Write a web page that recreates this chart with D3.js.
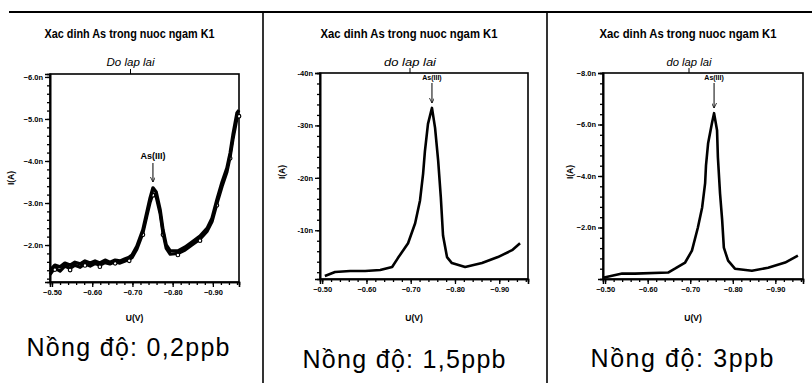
<!DOCTYPE html>
<html><head><meta charset="utf-8">
<script src="https://cdn.jsdelivr.net/npm/d3@7"></script>
<style>
html,body{margin:0;padding:0;background:#fff;}
svg{display:block;}
text{font-family:Arial,"Liberation Sans",sans-serif;fill:#000;}
</style></head>
<body><svg id="c" width="812" height="383"></svg>
<script>
// ---------- data ----------
const titles = ["Xac dinh As trong nuoc ngam K1","Xac dinh As trong nuoc ngam K1","Xac dinh As trong nuoc ngam K1"];
const subtitles = ["Do lap lai","do lap lai","do lap lai"];
const captions = ["Nồng độ: 0,2ppb","Nồng độ: 1,5ppb","Nồng độ: 3ppb"];
const peakLabel = "As(III)";
const xLabel = "U(V)";
const yLabel = "I(A)";
const xTicks = [-0.50,-0.60,-0.70,-0.80,-0.90];
const yTicks1 = [-6,-5,-4,-3,-2];
const yTicks2 = [-40,-30,-20,-10];
const yTicks3 = [-8,-6,-4,-2];

const potential1 = [-0.495,-0.507,-0.520,-0.532,-0.545,-0.557,-0.570,-0.582,-0.595,-0.607,-0.619,-0.632,-0.644,-0.657,-0.669,-0.682,-0.692,-0.699,-0.711,-0.726,-0.736,-0.744,-0.751,-0.759,-0.769,-0.776,-0.784,-0.794,-0.813,-0.831,-0.848,-0.868,-0.886,-0.898,-0.910,-0.923,-0.935,-0.943,-0.950,-0.960,-0.965];
const current1a = [-1.40,-1.52,-1.48,-1.57,-1.52,-1.59,-1.55,-1.62,-1.57,-1.62,-1.57,-1.64,-1.59,-1.64,-1.62,-1.67,-1.71,-1.76,-1.97,-2.36,-2.78,-3.12,-3.36,-3.26,-2.83,-2.36,-2.00,-1.86,-1.86,-1.95,-2.07,-2.21,-2.40,-2.64,-3.07,-3.50,-3.83,-4.19,-4.62,-5.14,-5.21];
const current1b = [-1.30,-1.45,-1.38,-1.50,-1.44,-1.52,-1.47,-1.55,-1.50,-1.56,-1.52,-1.58,-1.55,-1.60,-1.57,-1.62,-1.66,-1.70,-1.90,-2.28,-2.70,-3.02,-3.22,-3.15,-2.74,-2.28,-1.92,-1.78,-1.80,-1.88,-2.00,-2.14,-2.33,-2.56,-2.98,-3.40,-3.74,-4.10,-4.52,-5.02,-5.10];

const potential2 = [-0.506,-0.529,-0.563,-0.597,-0.631,-0.658,-0.671,-0.694,-0.710,-0.721,-0.728,-0.732,-0.739,-0.748,-0.755,-0.762,-0.768,-0.773,-0.782,-0.793,-0.823,-0.861,-0.897,-0.929,-0.947];
const current2 = [-1.27,-2.03,-2.22,-2.22,-2.41,-2.98,-4.69,-7.53,-11.33,-15.69,-20.82,-25.0,-30.30,-33.34,-29.54,-23.28,-16.3,-9.0,-4.88,-3.74,-2.98,-3.74,-4.88,-6.20,-7.53];

const potential3 = [-0.495,-0.540,-0.570,-0.648,-0.664,-0.688,-0.704,-0.718,-0.728,-0.735,-0.737,-0.742,-0.751,-0.756,-0.763,-0.765,-0.770,-0.775,-0.779,-0.789,-0.805,-0.845,-0.883,-0.923,-0.953];
const current3 = [-0.05,-0.21,-0.21,-0.25,-0.40,-0.64,-1.10,-2.00,-2.78,-3.72,-4.40,-5.27,-6.05,-6.44,-5.78,-4.73,-3.33,-2.30,-1.22,-0.71,-0.40,-0.32,-0.44,-0.64,-0.91];

// ---------- layout ----------
const svg = d3.select("#c");
const xDomain = [-0.495,-0.965];
const panels = [
  {box:{l:50,t:74,r:239,b:282}, yDomain:[-6.07,-1.12], yTicks:yTicks1, yMinor:0.2, fmt:d=>d3.format(".1f")(d)+"n",
   series:[{x:potential1,y:current1b,w:3.2,markers:true},{x:potential1,y:current1a,w:3.4,markers:false}],
   capW:203, capY:356, titleW:170, subW:48, ylab:[14,178], peak:{x:-0.751,y:-3.36,ly:159,fs:9,gap:4,len:19}},
  {box:{l:320,t:73,r:528,b:279}, yDomain:[-40,-0.7], yTicks:yTicks2, yMinor:2, fmt:d=>d+"n",
   series:[{x:potential2,y:current2,w:2.6,markers:false}],
   capW:203, capY:368, titleW:177, subW:52, ylab:[285,172], peak:{x:-0.748,y:-33.34,ly:80,fs:7,gap:3,len:20}},
  {box:{l:603,t:73,r:803,b:279}, yDomain:[-8,0], yTicks:yTicks3, yMinor:0.4, fmt:d=>d3.format(".1f")(d)+"n",
   series:[{x:potential3,y:current3,w:2.6,markers:false}],
   capW:183, capY:367, titleW:177, subW:45, ylab:[573,172], peak:{x:-0.756,y:-6.44,ly:80,fs:7,gap:3,len:25}}
];
const capX=[128,404,682];

// borders
svg.append("line").attr("x1",9).attr("x2",812).attr("y1",12).attr("y2",12).attr("stroke","#000").attr("stroke-width",2);
[263,547].forEach(x=>svg.append("line").attr("x1",x).attr("x2",x).attr("y1",12).attr("y2",383).attr("stroke","#000").attr("stroke-width",1.6));

svg.append("defs").append("marker").attr("id","arr").attr("viewBox","0 0 10 10").attr("refX",10).attr("refY",5)
  .attr("markerWidth",5).attr("markerHeight",5).attr("markerUnits","userSpaceOnUse").attr("orient","auto")
  .append("path").attr("d","M0,0 L10,5 L0,10").attr("fill","none").attr("stroke","#000").attr("stroke-width",1.6);

panels.forEach((p,i)=>{
  const b=p.box;
  const x=d3.scaleLinear().domain(xDomain).range([b.l,b.r]);
  const y=d3.scaleLinear().domain(p.yDomain).range([b.t,b.b]);
  const g=svg.append("g");
  const mid=(b.l+b.r)/2;
  // titles
  g.append("text").attr("x",mid-15).attr("y",38).attr("text-anchor","middle")
    .attr("font-size",13).attr("font-weight","bold").attr("textLength",p.titleW).attr("lengthAdjust","spacingAndGlyphs")
    .style("font-family","'Liberation Sans Narrow','Arial Narrow',Arial,sans-serif").text(titles[i]);
  g.append("text").attr("x",mid-14).attr("y",66).attr("text-anchor","middle")
    .attr("font-size",11).attr("font-style","italic").attr("textLength",p.subW).attr("lengthAdjust","spacingAndGlyphs").text(subtitles[i]);
  // small top marker
  g.append("line").attr("x1",mid-14).attr("x2",mid-14).attr("y1",b.t-5).attr("y2",b.t).attr("stroke","#000").attr("stroke-width",1);
  // frame
  g.append("rect").attr("x",b.l).attr("y",b.t).attr("width",b.r-b.l).attr("height",b.b-b.t)
    .attr("fill","#fff").attr("stroke","#000").attr("stroke-width",1.6);
  // axes
  g.append("g").attr("transform",`translate(0,${b.b})`)
    .call(d3.axisBottom(x).tickValues(xTicks).tickSize(5).tickPadding(3).tickFormat(d3.format(".2f")));
  g.append("g").attr("transform",`translate(0,${b.b})`)
    .call(d3.axisBottom(x).tickValues(d3.range(-0.50,-0.965,-0.02)).tickSize(3).tickFormat(""));
  g.append("g").attr("transform",`translate(${b.l},0)`)
    .call(d3.axisLeft(y).tickValues(p.yTicks).tickSize(5).tickPadding(2).tickFormat(p.fmt));
  const lo=Math.min(...p.yDomain), hi=Math.max(...p.yDomain);
  const minor=[]; for(let v=Math.ceil(lo/p.yMinor)*p.yMinor; v<=hi+1e-9; v+=p.yMinor) minor.push(+v.toFixed(4));
  g.append("g").attr("transform",`translate(${b.l},0)`)
    .call(d3.axisLeft(y).tickValues(minor).tickSize(3).tickFormat(""));
  g.selectAll(".domain").attr("stroke","#000").attr("stroke-width",1.6);
  g.selectAll(".tick line").attr("stroke","#000").attr("stroke-width",1.3);
  g.selectAll(".tick text").attr("font-size",7.5).attr("font-weight","bold").style("font-family","Arial,sans-serif");
  // axis labels
  g.append("text").attr("x",mid-10).attr("y",321).attr("text-anchor","middle")
    .attr("font-size",8.5).attr("font-weight","bold").text(xLabel);
  g.append("text").attr("transform",`translate(${p.ylab[0]},${p.ylab[1]}) rotate(-90)`).attr("text-anchor","middle")
    .attr("font-size",8.5).attr("font-weight","bold").text(yLabel);
  // curves
  p.series.forEach(s=>{
    const pts=s.x.map((v,k)=>[v,s.y[k]]);
    g.append("path").datum(pts).attr("fill","none").attr("stroke","#000").attr("stroke-width",s.w)
      .attr("stroke-linejoin","round").attr("d",d3.line().x(d=>x(d[0])).y(d=>y(d[1])));
    if(s.markers){
      g.selectAll(null).data(pts.filter((d,k)=>k%3==1)).join("circle")
        .attr("cx",d=>x(d[0])).attr("cy",d=>y(d[1])+1.5).attr("r",1.8)
        .attr("fill","#fff").attr("stroke","#000").attr("stroke-width",1.2);
    }
  });
  // peak annotation
  const pk=p.peak, px=x(pk.x);
  g.append("text").attr("x",px).attr("y",pk.ly).attr("text-anchor","middle").attr("font-size",pk.fs)
    .attr("font-weight","bold").text(peakLabel);
  g.append("line").attr("x1",px).attr("x2",px).attr("y1",pk.ly+pk.gap).attr("y2",pk.ly+pk.gap+pk.len)
    .attr("stroke","#000").attr("stroke-width",1).attr("marker-end","url(#arr)");
  // caption
  g.append("text").attr("x",capX[i]).attr("y",p.capY).attr("text-anchor","middle").attr("font-size",25)
    .attr("textLength",p.capW).attr("lengthAdjust","spacing").text(captions[i]);
});
</script></body></html>
